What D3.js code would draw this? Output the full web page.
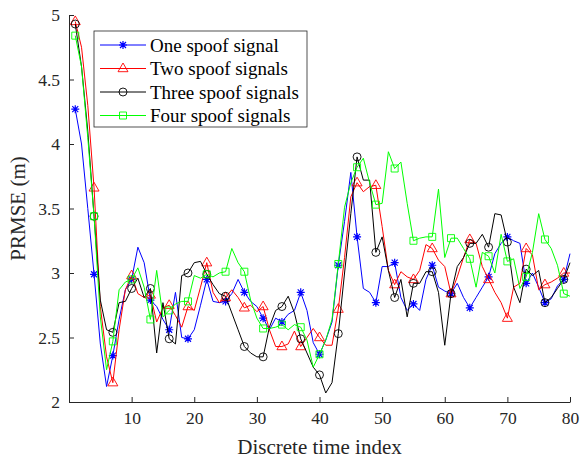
<!DOCTYPE html>
<html>
<head>
<meta charset="utf-8">
<script src="https://cdn.jsdelivr.net/npm/d3@7"></script>
<style>
  body { margin: 0; background: #fff; }
  svg { font-family: "Liberation Serif", "Times New Roman", serif; }
  .axis path, .axis line { stroke: #262626; }
  .axis text { font-size: 17.5px; fill: #262626; font-family: "Liberation Serif", serif; }
</style>
</head>
<body>
<div id="chart"></div>
<script>
// time index 1..80
const timeIndex = d3.range(1, 81);

const oneSpoof = [4.27, 4.0, 3.5, 2.99, 2.45, 2.12, 2.36, 2.64, 2.87, 2.95,
  3.20, 3.08, 2.79, 2.74, 2.64, 2.56, 2.85, 2.50, 2.49, 2.56,
  2.75, 2.95, 2.78, 2.77, 2.78, 2.84, 2.95, 2.85, 2.78, 2.74,
  2.65, 2.56, 2.65, 2.62, 2.68, 2.71, 2.85, 2.71, 2.46, 2.37,
  2.48, 2.62, 3.06, 3.40, 3.78, 3.28, 2.88, 2.85, 2.77, 3.05,
  3.05, 3.08, 2.81, 2.71, 2.76, 2.71, 2.95, 3.06, 2.89, 2.86,
  2.84, 2.92, 2.81, 2.73, 2.81, 2.89, 2.97, 3.15, 3.23, 3.28,
  3.25, 3.23, 2.92, 3.00, 2.89, 2.77, 2.80, 2.90, 2.95, 3.15];

const twoSpoof = [4.95, 4.75, 4.3, 3.66, 2.74, 2.35, 2.15, 2.56, 2.87, 2.98,
  2.84, 2.81, 2.83, 2.62, 2.73, 2.75, 2.67, 2.58, 2.74, 2.71,
  2.89, 3.08, 2.85, 2.77, 2.81, 2.87, 2.81, 2.73, 2.75, 2.70,
  2.74, 2.56, 2.43, 2.43, 2.45, 2.55, 2.43, 2.50, 2.57, 2.50,
  2.44, 2.44, 2.72, 3.12, 3.59, 3.70, 3.63, 3.67, 3.68, 3.36,
  3.02, 2.91, 3.01, 2.97, 2.95, 3.02, 3.22, 3.19, 3.10, 3.05,
  2.84, 2.97, 3.12, 3.26, 3.23, 3.05, 2.95, 2.85, 2.77, 2.65,
  2.89, 2.92, 3.19, 3.14, 2.87, 2.91, 2.93, 2.96, 3.00, 3.00];

const threeSpoof = [4.93, 4.6, 4.1, 3.44, 2.79, 2.56, 2.54, 2.77, 2.78, 2.88,
  2.96, 2.81, 2.88, 2.38, 2.77, 2.49, 2.45, 2.98, 3.00, 3.08,
  3.09, 2.99, 2.91, 2.84, 2.82, 2.69, 2.56, 2.43, 2.38, 2.35,
  2.35, 2.58, 2.71, 2.74, 2.82, 2.69, 2.49, 2.38, 2.27, 2.21,
  2.07, 2.15, 2.53, 3.00, 3.46, 3.90, 3.72, 3.72, 3.16, 3.28,
  3.02, 2.81, 2.95, 2.66, 2.92, 2.92, 3.01, 3.01, 2.85, 2.44,
  2.84, 3.05, 3.12, 3.23, 3.23, 3.30, 3.20, 3.46, 3.45, 3.24,
  2.89, 2.77, 3.03, 2.98, 3.02, 2.77, 2.81, 2.88, 2.95, 3.08];

const fourSpoof = [4.84, 4.6, 4.05, 3.44, 2.66, 2.25, 2.47, 2.87, 2.93, 2.95,
  3.04, 2.89, 2.64, 3.02, 2.66, 2.71, 2.76, 2.78, 2.78, 2.98,
  2.96, 2.99, 2.97, 3.00, 3.01, 3.19, 3.08, 3.01, 2.79, 2.65,
  2.57, 2.57, 2.58, 2.60, 2.56, 2.60, 2.58, 2.48, 2.27, 2.37,
  2.48, 2.64, 3.07, 3.51, 3.70, 3.82, 3.89, 3.70, 3.53, 3.54,
  3.94, 3.81, 3.86, 3.54, 3.25, 3.27, 3.28, 3.28, 3.65, 3.12,
  3.27, 3.27, 3.19, 3.11, 2.89, 3.16, 3.13, 3.00, 3.30, 3.09,
  3.11, 2.88, 2.97, 3.16, 3.46, 3.26, 3.19, 3.06, 2.84, 2.82];

const seriesNames = ["One spoof signal", "Two spoof signals", "Three spoof signals", "Four spoof signals"];
const seriesColors = ["#0000ff", "#ff0000", "#000000", "#00ff00"];
const seriesMarkers = ["star", "triangle", "circle", "square"];

const xTicks = [10, 20, 30, 40, 50, 60, 70, 80];
const yTicks = [2, 2.5, 3, 3.5, 4, 4.5, 5];

const width = 581, height = 462;
const margin = {top: 15, right: 11, bottom: 60, left: 69};
const innerW = width - margin.left - margin.right;
const innerH = height - margin.top - margin.bottom;

const svg = d3.select("#chart").append("svg")
  .attr("width", width)
  .attr("height", height);

const chart = svg.append("g")
  .attr("transform", `translate(${margin.left},${margin.top})`);

const xScale = d3.scaleLinear().domain([0, 80]).range([0, innerW]);
const yScale = d3.scaleLinear().domain([2, 5]).range([innerH, 0]);

// axes, MATLAB-like inward ticks
const xAxis = d3.axisBottom(xScale).tickValues(xTicks).tickSize(-5).tickSizeOuter(0).tickPadding(10);
const yAxis = d3.axisLeft(yScale).tickValues(yTicks).tickSize(-5).tickSizeOuter(0).tickPadding(9)
  .tickFormat(d3.format("~g"));

chart.append("g").attr("class", "axis")
  .attr("transform", `translate(0,${innerH})`)
  .call(xAxis);
chart.append("g").attr("class", "axis").call(yAxis);

// data lines
const allSeries = [oneSpoof, twoSpoof, threeSpoof, fourSpoof];

function markerPath(type) {
  if (type === "star") {
    const r = 4;
    const q = r * 0.75;
    return `M${-r},0L${r},0M0,${-r}L0,${r}M${-q},${-q}L${q},${q}M${-q},${q}L${q},${-q}`;
  }
  if (type === "triangle") return "M0,-5.5L5,3.2L-5,3.2Z";
  if (type === "circle") return d3.symbol(d3.symbolCircle, 50)();
  return "M-3.5,-3.5L3.5,-3.5L3.5,3.5L-3.5,3.5Z";
}

const line = d3.line()
  .x((d, i) => xScale(timeIndex[i]))
  .y(d => yScale(d));

allSeries.forEach((vals, s) => {
  const g = chart.append("g");
  g.append("path")
    .datum(vals)
    .attr("fill", "none")
    .attr("stroke", seriesColors[s])
    .attr("stroke-width", 1)
    .attr("d", line);

  g.selectAll(".mark")
    .data(vals.map((v, i) => ({x: timeIndex[i], v})).filter((d, i) => i % 3 === 0))
    .join("path")
      .attr("class", "mark")
      .attr("transform", d => `translate(${xScale(d.x)},${yScale(d.v)})`)
      .attr("d", markerPath(seriesMarkers[s]))
      .attr("fill", "none")
      .attr("stroke", seriesColors[s])
      .attr("stroke-width", seriesMarkers[s] === "star" ? 1.2 : 0.9);
});

// axis titles
svg.append("text")
  .attr("x", margin.left + innerW / 2)
  .attr("y", 454)
  .attr("text-anchor", "middle")
  .style("font-size", "21px")
  .attr("fill", "#262626")
  .text("Discrete time index");

svg.append("text")
  .attr("transform", `translate(25,${margin.top + innerH / 2}) rotate(-90)`)
  .attr("text-anchor", "middle")
  .style("font-size", "21px")
  .attr("fill", "#262626")
  .text("PRMSE (m)");

// legend
const legend = svg.append("g").attr("transform", "translate(94,31)");
legend.append("rect")
  .attr("width", 213)
  .attr("height", 96)
  .attr("fill", "#fff")
  .attr("stroke", "#262626")
  .attr("stroke-width", 0.8);

seriesNames.forEach((name, i) => {
  const yy = 14 + i * 23.5;
  legend.append("line")
    .attr("x1", 6).attr("x2", 52)
    .attr("y1", yy).attr("y2", yy)
    .attr("stroke", seriesColors[i]);
  legend.append("path")
    .attr("transform", `translate(29,${yy})`)
    .attr("d", markerPath(seriesMarkers[i]))
    .attr("fill", "none")
    .attr("stroke", seriesColors[i])
    .attr("stroke-width", seriesMarkers[i] === "star" ? 1.2 : 0.9);
  legend.append("text")
    .attr("x", 56)
    .attr("y", yy + 6.5)
    .style("font-size", "19px")
    .attr("fill", "#000")
    .text(name);
});
</script>
</body>
</html>
